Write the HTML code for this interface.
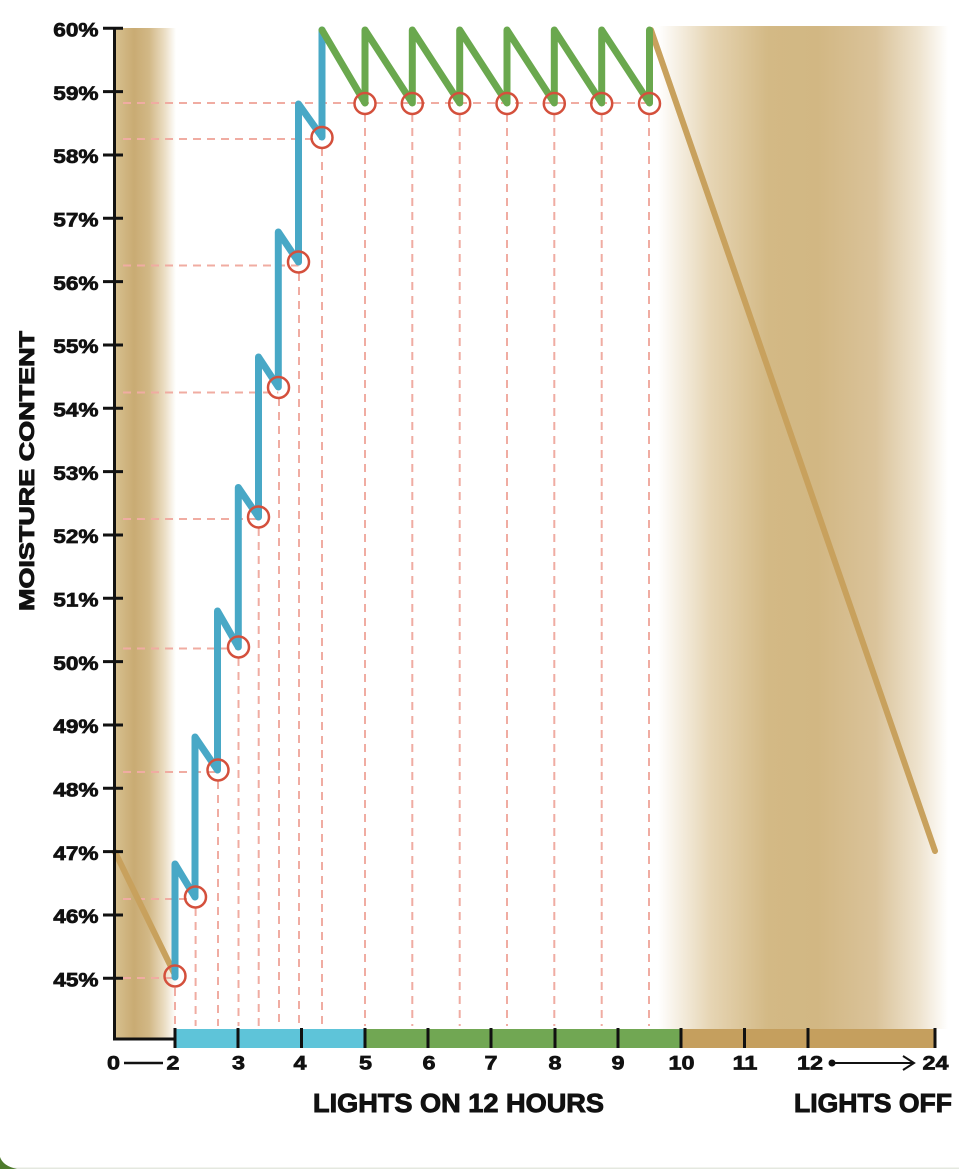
<!DOCTYPE html>
<html><head><meta charset="utf-8"><style>
html,body{margin:0;padding:0;background:#fff;}
svg{display:block;}
text{font-family:"Liberation Sans",Arial,sans-serif;font-weight:bold;fill:#111;stroke:#111;stroke-width:0.7;}
</style></head><body>
<svg width="959" height="1169" viewBox="0 0 959 1169" xmlns="http://www.w3.org/2000/svg">
<defs>
<linearGradient id="lb" x1="116" x2="176" y1="0" y2="0" gradientUnits="userSpaceOnUse">
<stop offset="0" stop-color="#d6bf8e"/>
<stop offset="0.3" stop-color="#c9ab73"/>
<stop offset="0.55" stop-color="#d2b886"/>
<stop offset="0.8" stop-color="#eadcc1"/>
<stop offset="1" stop-color="#ffffff"/>
</linearGradient>
<linearGradient id="rb" x1="658" x2="948" y1="0" y2="0" gradientUnits="userSpaceOnUse">
<stop offset="0" stop-color="#ffffff"/>
<stop offset="0.18" stop-color="#e6d5b4"/>
<stop offset="0.38" stop-color="#d3b985"/>
<stop offset="0.55" stop-color="#d2b783"/>
<stop offset="0.75" stop-color="#dac39a"/>
<stop offset="0.9" stop-color="#eee3ce"/>
<stop offset="1" stop-color="#ffffff"/>
</linearGradient>
</defs>

<!-- bands -->
<rect x="116" y="28" width="60" height="1011" fill="url(#lb)"/>
<rect x="658" y="26" width="290" height="1003" fill="url(#rb)"/>

<!-- dashed guides -->
<g stroke="#f0aca2" stroke-width="2" stroke-dasharray="8 6" fill="none">
<line x1="123" y1="103" x2="649" y2="103"/>
<line x1="123" y1="139" x2="322" y2="139"/>
<line x1="123" y1="265.5" x2="298.5" y2="265.5"/>
<line x1="123" y1="392.5" x2="278.3" y2="392.5"/>
<line x1="123" y1="519" x2="258.3" y2="519"/>
<line x1="123" y1="648.5" x2="238.3" y2="648.5"/>
<line x1="123" y1="772" x2="217.5" y2="772"/>
<line x1="123" y1="899" x2="195" y2="899"/>
<line x1="123" y1="978" x2="175" y2="978"/>

<line x1="175" y1="988" x2="175" y2="1026"/>
<line x1="195.6" y1="908" x2="195.6" y2="1026"/>
<line x1="218" y1="781" x2="218" y2="1026"/>
<line x1="238.5" y1="658" x2="238.5" y2="1026"/>
<line x1="258.7" y1="528" x2="258.7" y2="1026"/>
<line x1="279" y1="398" x2="279" y2="1026"/>
<line x1="299" y1="273" x2="299" y2="1026"/>
<line x1="322" y1="148" x2="322" y2="1026"/>
<line x1="365" y1="114" x2="365" y2="1026"/>
<line x1="412.3" y1="114" x2="412.3" y2="1026"/>
<line x1="459.7" y1="114" x2="459.7" y2="1026"/>
<line x1="507" y1="114" x2="507" y2="1026"/>
<line x1="554.3" y1="114" x2="554.3" y2="1026"/>
<line x1="601.7" y1="114" x2="601.7" y2="1026"/>
<line x1="649" y1="114" x2="649" y2="1026"/>
</g>

<!-- tan lines -->
<g stroke="#c8a15d" stroke-width="6" stroke-linecap="round" fill="none">
<line x1="115" y1="852" x2="175" y2="975"/>
<line x1="651" y1="30" x2="935" y2="851"/>
</g>

<!-- blue line -->
<polyline fill="none" stroke="#48a8c6" stroke-width="7" stroke-linecap="round" stroke-linejoin="round"
points="175,977 175,864 195,897 195,737 217.5,770 217.5,611 238.3,647 238.3,487.5 258.5,517 258.5,357 278.3,387 278.3,232 298.5,262 298.5,104 322,137 322,30"/>

<!-- green line -->
<polyline fill="none" stroke="#6aa84e" stroke-width="7" stroke-linecap="round" stroke-linejoin="round"
points="322,30 365,103 365,30 412.3,103 412.3,30 459.7,103 459.7,30 507,103 507,30 554.3,103 554.3,30 601.7,103 601.7,30 649.5,103 649.5,30"/>

<!-- circles -->
<g fill="none" stroke="#d4503c" stroke-width="2.5">
<circle cx="175" cy="976" r="10.5"/>
<circle cx="195.5" cy="897" r="10.5"/>
<circle cx="218" cy="770" r="10.5"/>
<circle cx="238.5" cy="647" r="10.5"/>
<circle cx="258.5" cy="517" r="10.5"/>
<circle cx="278.5" cy="387.5" r="10.5"/>
<circle cx="298.5" cy="262" r="10.5"/>
<circle cx="322" cy="137.5" r="10.5"/>
<circle cx="365" cy="103.5" r="10.5"/>
<circle cx="412.3" cy="103.5" r="10.5"/>
<circle cx="459.7" cy="103.5" r="10.5"/>
<circle cx="507" cy="103.5" r="10.5"/>
<circle cx="554.3" cy="103.5" r="10.5"/>
<circle cx="601.7" cy="103.5" r="10.5"/>
<circle cx="649.5" cy="103.5" r="10.5"/>
</g>

<!-- y axis -->
<g stroke="#111" stroke-width="3" fill="none">
<line x1="114.5" y1="27" x2="114.5" y2="1040.5"/>
<line x1="113" y1="1039" x2="176" y2="1039"/>
<line x1="103" y1="28.3" x2="123" y2="28.3"/>
<line x1="103" y1="91.6" x2="123" y2="91.6"/>
<line x1="103" y1="155" x2="123" y2="155"/>
<line x1="103" y1="218.3" x2="123" y2="218.3"/>
<line x1="103" y1="281.6" x2="123" y2="281.6"/>
<line x1="103" y1="345" x2="123" y2="345"/>
<line x1="103" y1="408.3" x2="123" y2="408.3"/>
<line x1="103" y1="471.6" x2="123" y2="471.6"/>
<line x1="103" y1="535" x2="123" y2="535"/>
<line x1="103" y1="598.3" x2="123" y2="598.3"/>
<line x1="103" y1="661.6" x2="123" y2="661.6"/>
<line x1="103" y1="725" x2="123" y2="725"/>
<line x1="103" y1="788.3" x2="123" y2="788.3"/>
<line x1="103" y1="851.6" x2="123" y2="851.6"/>
<line x1="103" y1="915" x2="123" y2="915"/>
<line x1="103" y1="978.3" x2="123" y2="978.3"/>
</g>

<!-- y labels -->
<g transform="translate(98.5,0) scale(1.16,1)" font-size="19.5" text-anchor="end">
<text x="0" y="36.5">60%</text>
<text x="0" y="99.8">59%</text>
<text x="0" y="163.2">58%</text>
<text x="0" y="226.5">57%</text>
<text x="0" y="289.8">56%</text>
<text x="0" y="353.2">55%</text>
<text x="0" y="416.5">54%</text>
<text x="0" y="479.8">53%</text>
<text x="0" y="543.2">52%</text>
<text x="0" y="606.5">51%</text>
<text x="0" y="669.8">50%</text>
<text x="0" y="733.2">49%</text>
<text x="0" y="796.5">48%</text>
<text x="0" y="859.8">47%</text>
<text x="0" y="923.2">46%</text>
<text x="0" y="986.5">45%</text>
</g>

<text transform="translate(34,471) rotate(-90)" font-size="21.5" text-anchor="middle" textLength="280" lengthAdjust="spacingAndGlyphs" style="stroke-width:0.9">MOISTURE CONTENT</text>

<!-- bar -->
<rect x="175" y="1029" width="190" height="19" fill="#5ec4d9"/>
<rect x="365" y="1029" width="316" height="19" fill="#71a753"/>
<rect x="681" y="1029" width="254" height="19" fill="#c59f5e"/>
<g stroke="#111" stroke-width="3">
<line x1="175" y1="1028" x2="175" y2="1048"/>
<line x1="238" y1="1028" x2="238" y2="1048"/>
<line x1="301.5" y1="1028" x2="301.5" y2="1048"/>
<line x1="365" y1="1028" x2="365" y2="1048"/>
<line x1="428" y1="1028" x2="428" y2="1048"/>
<line x1="491" y1="1028" x2="491" y2="1048"/>
<line x1="555" y1="1028" x2="555" y2="1048"/>
<line x1="618" y1="1028" x2="618" y2="1048"/>
<line x1="681" y1="1028" x2="681" y2="1048"/>
<line x1="744.5" y1="1028" x2="744.5" y2="1048"/>
<line x1="808" y1="1028" x2="808" y2="1048"/>
<line x1="935" y1="1028" x2="935" y2="1048"/>
</g>

<!-- x labels -->
<g font-size="19.5" text-anchor="middle">
<text transform="translate(113.5,1069.5) scale(1.2,1)">0</text>
<text transform="translate(173,1069.5) scale(1.2,1)">2</text>
<text transform="translate(238.5,1069.5) scale(1.2,1)">3</text>
<text transform="translate(300,1069.5) scale(1.2,1)">4</text>
<text transform="translate(365.5,1069.5) scale(1.2,1)">5</text>
<text transform="translate(429,1069.5) scale(1.2,1)">6</text>
<text transform="translate(491,1069.5) scale(1.2,1)">7</text>
<text transform="translate(555,1069.5) scale(1.2,1)">8</text>
<text transform="translate(618,1069.5) scale(1.2,1)">9</text>
<text transform="translate(681.5,1069.5) scale(1.2,1)">10</text>
<text transform="translate(745,1069.5) scale(1.2,1)">11</text>
<text transform="translate(810,1069.5) scale(1.2,1)">12</text>
<text transform="translate(935.5,1069.5) scale(1.2,1)">24</text>
</g>
<line x1="124" y1="1063" x2="163" y2="1063" stroke="#111" stroke-width="2.5"/>
<circle cx="832" cy="1063" r="3.5" fill="#111"/>
<line x1="832" y1="1063" x2="913" y2="1063" stroke="#111" stroke-width="2"/>
<polyline points="903,1056 914,1063 903,1070" fill="none" stroke="#111" stroke-width="2"/>

<text x="313" y="1112" font-size="25.5" textLength="291" lengthAdjust="spacingAndGlyphs" style="stroke-width:0.9">LIGHTS ON 12 HOURS</text>
<text x="794" y="1112" font-size="25.5" textLength="158" lengthAdjust="spacingAndGlyphs" style="stroke-width:0.9">LIGHTS OFF</text>

<!-- bottom edge -->
<rect x="0" y="1167.5" width="959" height="1.5" fill="#e4e8df"/>
<path d="M0,1157 Q3,1166 17,1169 L0,1169 Z" fill="#4e7b2c"/>
</svg>
</body></html>
